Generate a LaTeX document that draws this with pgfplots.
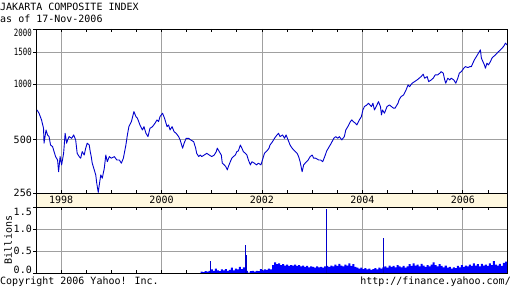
\documentclass[border=0pt]{standalone}
\usepackage{fontspec}
\setmainfont{DejaVu Sans Mono}
\usepackage{graphicx}
\usepackage{pgfplots}
\pgfplotsset{compat=1.18}
\definecolor{priceblue}{RGB}{0,0,204}
\definecolor{volblue}{RGB}{0,0,255}
\definecolor{gridgray}{RGB}{160,160,160}
\definecolor{bandfill}{RGB}{255,248,224}
\pgfplotstableread{
x y
1997.52 725
1997.56 696
1997.61 640
1997.65 576
1997.66 478
1997.70 564
1997.73 530
1997.76 519
1997.79 467
1997.83 458
1997.86 430
1997.89 404
1997.93 387
1997.95 334
1997.98 404
1998.01 364
1998.05 421
1998.08 541
1998.11 478
1998.13 498
1998.16 519
1998.21 508
1998.25 530
1998.29 498
1998.32 421
1998.36 404
1998.39 396
1998.42 430
1998.46 412
1998.49 449
1998.52 478
1998.56 467
1998.58 430
1998.60 404
1998.62 372
1998.66 342
1998.69 321
1998.71 289
1998.74 258
1998.76 283
1998.79 321
1998.82 308
1998.86 349
1998.89 412
1998.92 379
1998.96 404
1999.00 396
1999.06 404
1999.11 387
1999.16 387
1999.20 372
1999.24 396
1999.29 467
1999.32 530
1999.35 588
1999.40 626
1999.45 710
1999.49 667
1999.52 653
1999.57 601
1999.62 564
1999.65 588
1999.69 541
1999.73 519
1999.77 576
1999.82 588
1999.87 614
1999.91 640
1999.94 626
1999.97 667
2000.02 696
2000.06 653
2000.11 588
2000.14 601
2000.17 564
2000.21 588
2000.25 552
2000.29 541
2000.34 519
2000.37 498
2000.42 449
2000.45 478
2000.49 508
2000.54 508
2000.58 498
2000.64 487
2000.68 449
2000.70 421
2000.74 404
2000.77 412
2000.80 404
2000.85 412
2000.90 421
2000.95 412
2001.00 404
2001.05 412
2001.09 430
2001.11 449
2001.15 430
2001.19 412
2001.21 372
2001.25 364
2001.28 356
2001.31 342
2001.33 356
2001.37 379
2001.40 396
2001.43 404
2001.47 412
2001.50 430
2001.53 434
2001.57 467
2001.60 449
2001.63 430
2001.67 421
2001.70 412
2001.73 387
2001.77 364
2001.80 379
2001.85 372
2001.89 364
2001.93 372
2001.98 364
2002.02 396
2002.05 421
2002.10 434
2002.14 449
2002.16 467
2002.21 487
2002.25 508
2002.30 530
2002.33 541
2002.36 519
2002.41 530
2002.45 508
2002.48 530
2002.52 498
2002.56 467
2002.60 449
2002.65 434
2002.70 421
2002.73 404
2002.76 379
2002.80 334
2002.83 364
2002.86 372
2002.92 387
2002.96 404
2003.00 412
2003.03 396
2003.07 396
2003.13 387
2003.17 387
2003.21 379
2003.25 404
2003.29 434
2003.34 458
2003.38 478
2003.43 508
2003.47 519
2003.51 508
2003.54 519
2003.59 498
2003.64 519
2003.67 564
2003.71 588
2003.76 626
2003.79 640
2003.82 626
2003.86 614
2003.89 601
2003.94 640
2003.98 667
2004.01 725
2004.04 756
2004.09 772
2004.12 789
2004.18 756
2004.21 789
2004.24 725
2004.29 772
2004.32 805
2004.36 756
2004.38 681
2004.40 725
2004.44 696
2004.49 756
2004.54 772
2004.58 756
2004.62 741
2004.65 741
2004.71 789
2004.73 822
2004.77 857
2004.82 875
2004.87 932
2004.91 992
2004.94 971
2004.99 1013
2005.04 1034
2005.09 1056
2005.13 1079
2005.17 1101
2005.21 1135
2005.24 1079
2005.29 1101
2005.32 1034
2005.37 1056
2005.41 1079
2005.45 1125
2005.50 1125
2005.54 1149
2005.57 1172
2005.61 1149
2005.64 1056
2005.66 1013
2005.70 1079
2005.74 1056
2005.77 1079
2005.82 1056
2005.86 1013
2005.90 1079
2005.93 1149
2005.97 1172
2006.02 1223
2006.05 1248
2006.10 1233
2006.14 1248
2006.17 1248
2006.20 1303
2006.23 1358
2006.27 1415
2006.31 1476
2006.35 1539
2006.37 1387
2006.40 1329
2006.43 1275
2006.45 1223
2006.48 1303
2006.51 1275
2006.55 1329
2006.58 1387
2006.61 1415
2006.65 1445
2006.68 1476
2006.71 1506
2006.75 1539
2006.78 1572
2006.81 1604
2006.85 1674
2006.88 1638
}\pricetable
\pgfplotstableread{
x v
2000.78 0.03
2000.82 0.02
2000.86 0.04
2000.90 0.03
2000.94 0.05
2000.98 0.08
2001.02 0.05
2001.06 0.10
2001.10 0.06
2001.14 0.04
2001.18 0.08
2001.22 0.06
2001.26 0.09
2001.30 0.05
2001.34 0.07
2001.38 0.12
2001.42 0.06
2001.46 0.10
2001.50 0.08
2001.54 0.14
2001.58 0.09
2001.62 0.13
2001.66 0.07
2001.70 0.05
2001.72 0.01
2001.76 0.04
2001.80 0.05
2001.84 0.03
2001.88 0.05
2001.92 0.04
2001.96 0.09
2002.00 0.06
2002.04 0.08
2002.08 0.07
2002.12 0.10
2002.16 0.08
2002.20 0.18
2002.24 0.24
2002.28 0.20
2002.32 0.22
2002.36 0.18
2002.40 0.20
2002.44 0.17
2002.48 0.19
2002.52 0.16
2002.56 0.18
2002.60 0.17
2002.64 0.19
2002.68 0.16
2002.72 0.18
2002.76 0.15
2002.80 0.17
2002.84 0.14
2002.88 0.16
2002.92 0.13
2002.96 0.15
2003.00 0.14
2003.04 0.12
2003.08 0.15
2003.12 0.13
2003.16 0.14
2003.20 0.12
2003.24 0.15
2003.28 0.16
2003.32 0.14
2003.36 0.17
2003.40 0.15
2003.44 0.19
2003.48 0.16
2003.52 0.21
2003.56 0.17
2003.60 0.15
2003.64 0.19
2003.68 0.17
2003.72 0.22
2003.76 0.16
2003.80 0.20
2003.84 0.14
2003.88 0.12
2003.92 0.10
2003.96 0.12
2004.00 0.09
2004.04 0.11
2004.08 0.08
2004.12 0.10
2004.16 0.07
2004.20 0.09
2004.24 0.11
2004.28 0.08
2004.32 0.12
2004.36 0.10
2004.40 0.13
2004.44 0.15
2004.48 0.12
2004.52 0.17
2004.56 0.14
2004.60 0.16
2004.64 0.13
2004.68 0.18
2004.72 0.15
2004.76 0.13
2004.80 0.16
2004.84 0.12
2004.88 0.15
2004.92 0.20
2004.96 0.16
2005.00 0.22
2005.04 0.17
2005.08 0.19
2005.12 0.15
2005.16 0.21
2005.20 0.17
2005.24 0.14
2005.28 0.18
2005.32 0.15
2005.36 0.19
2005.40 0.24
2005.44 0.18
2005.48 0.15
2005.52 0.20
2005.56 0.16
2005.60 0.13
2005.64 0.17
2005.68 0.12
2005.72 0.14
2005.76 0.10
2005.80 0.13
2005.84 0.11
2005.88 0.16
2005.92 0.13
2005.96 0.18
2006.00 0.14
2006.04 0.17
2006.08 0.15
2006.12 0.19
2006.16 0.16
2006.20 0.22
2006.24 0.17
2006.28 0.20
2006.32 0.15
2006.36 0.21
2006.40 0.17
2006.44 0.19
2006.48 0.16
2006.52 0.22
2006.56 0.18
2006.60 0.27
2006.64 0.19
2006.68 0.17
2006.72 0.21
2006.76 0.16
2006.80 0.23
2006.84 0.26
2006.88 0.20
}\voltable
\begin{document}
\fontsize{10}{12}\selectfont
\begin{tikzpicture}
\useasboundingbox (0pt,0pt) rectangle (512pt,288pt);
\pgfplotsset{
  yahoo/.style={
    scale only axis, anchor=south west,
    width=471pt,
    xmin=1997.5, xmax=2006.88,
    axis line style={black, line width=0.8pt},
    grid=major, major grid style={gridgray, line width=0.8pt},
    xtick={1998,2000,2002,2004,2006},
    minor xtick={1997.5,1998.5,1999,1999.5,2000.5,2001,2001.5,2002.5,2003,2003.5,2004.5,2005,2005.5,2006.5},
    xticklabels={},
    xtick align=inside, ytick align=outside,
    ytick pos=left,
    major tick length=3pt, minor tick length=3pt,
    tick style={black, line width=0.8pt},
    tick label style={font=\fontsize{10}{12}\selectfont},
    yticklabel style={inner xsep=1pt},
  }
}
% main price axis
\begin{axis}[yahoo, at={(36pt,95pt)}, height=164pt,
  ymode=log, ymin=256, ymax=2000,
  ytick={256,500,1000,1500,2000},
  yticklabels={256,500,\scalebox{0.74}[1]{1000},\scalebox{0.74}[1]{1500},\raisebox{-4pt}[\height][\depth]{\scalebox{0.74}[1]{2000}}},
]
\addplot[priceblue, line width=0.9pt, line join=round] table[x=x,y=y] {\pricetable};
\end{axis}
% date band
\begin{axis}[yahoo, at={(36pt,81pt)}, height=14pt,
  ymin=0, ymax=1, ytick=\empty, grid=none,
  minor xtick={}, major tick length=0pt,
  axis background/.style={fill=bandfill},
  xticklabels={1998,2000,2002,2004,2006},
  xticklabel style={anchor=center, yshift=7pt},
]
\end{axis}
% volume axis
\begin{axis}[yahoo, at={(36pt,15pt)}, height=66pt,
  ymin=0, ymax=1.5,
  ytick={0,0.5,1,1.5},
  yticklabels={\raisebox{3pt}[\height][\depth]{0.0},0.5,1.0,\raisebox{-5pt}[\height][\depth]{1.5}},
  ylabel={Billions},
  ylabel style={at={(axis description cs:-0.0594,0.5)}, anchor=center, font=\fontsize{10}{12}\selectfont},
]
\addplot[draw=none, fill=volblue, const plot] table[x=x,y=v] {\voltable} \closedcycle;
\addplot[ycomb, color=priceblue, line width=0.8pt, mark=none] coordinates {
 (2000.975,0.27) (2001.666,0.64) (2001.69,0.41) (2003.286,1.45) (2004.42,0.80)
};
\end{axis}
\node[anchor=base west, inner sep=0pt] at (0pt,277pt) {JAKARTA COMPOSITE INDEX};
\node[anchor=base west, inner sep=0pt] at (0pt,265pt) {as of 17-Nov-2006};
\node[anchor=base west, inner sep=0pt] at (0pt,3.5pt) {Copyright 2006 Yahoo! Inc.};
\node[anchor=base east, inner sep=0pt] at (511pt,3.5pt) {http://finance.yahoo.com/};
\end{tikzpicture}
\end{document}
